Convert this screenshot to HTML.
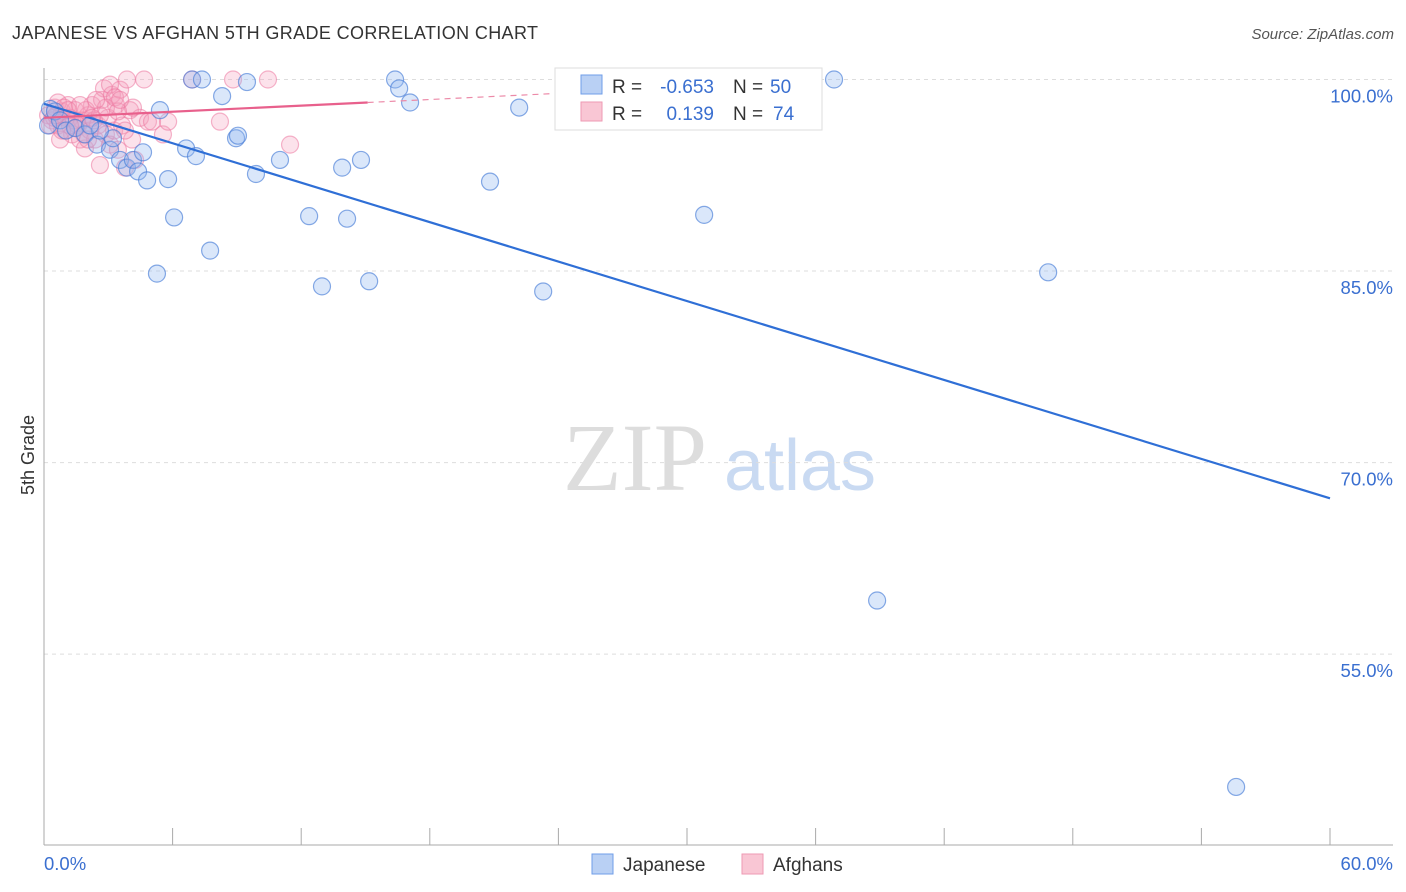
<!DOCTYPE html>
<html><head><meta charset="utf-8"><style>
body{margin:0;background:#fff;font-family:"Liberation Sans",sans-serif}
svg{display:block}
</style></head><body>
<svg id="chart" width="1406" height="892">
<text x="12" y="39" font-size="18" fill="#333" textLength="526">JAPANESE VS AFGHAN 5TH GRADE CORRELATION CHART</text>
<text x="1394" y="39" font-size="15" fill="#555" font-style="italic" text-anchor="end">Source: ZipAtlas.com</text>
<text x="34" y="455" font-size="18" fill="#333" transform="rotate(-90 34 455)" text-anchor="middle">5th Grade</text>
<g><text x="635" y="490" font-size="96" fill="#ddd" font-family="Liberation Serif" text-anchor="middle">ZIP</text><text x="800" y="490" font-size="72" fill="#c9daf2" text-anchor="middle">atlas</text></g>
<g id="grid"></g><g id="marks"></g>
<g>
<rect x="555" y="68" width="267" height="62" fill="#fff" stroke="#ddd"/>
<rect x="581" y="75" width="21" height="19" fill="#b9d0f4" stroke="#6f9ee8"/>
<rect x="581" y="102" width="21" height="19" fill="#f9c6d4" stroke="#ee9ab3"/>
<text x="612" y="93" font-size="19" fill="#333">R =</text>
<text x="714" y="93" font-size="19" fill="#3a6fd0" text-anchor="end">-0.653</text>
<text x="733" y="93" font-size="19" fill="#333">N =</text>
<text x="770" y="93" font-size="19" fill="#3a6fd0">50</text>
<text x="612" y="120" font-size="19" fill="#333">R =</text>
<text x="714" y="120" font-size="19" fill="#3a6fd0" text-anchor="end">0.139</text>
<text x="733" y="120" font-size="19" fill="#333">N =</text>
<text x="773" y="120" font-size="19" fill="#3a6fd0">74</text>
</g>
<g>
<rect x="592" y="854" width="21" height="20" fill="#b9d0f4" stroke="#6f9ee8"/><text x="623" y="871" font-size="19" fill="#333">Japanese</text>
<rect x="742" y="854" width="21" height="20" fill="#f9c6d4" stroke="#ee9ab3"/><text x="773" y="871" font-size="19" fill="#333">Afghans</text>
</g>
</svg>
<script>
const yTicks=[100,85,70,55];
const yTickLabels=["100.0%","85.0%","70.0%","55.0%"];
const xEndLabels=["0.0%","60.0%"];
const japX=[0.19,0.28,0.51,0.75,1.03,1.45,1.91,2.47,3.08,3.22,3.55,3.87,4.15,4.39,4.62,4.81,5.27,5.41,5.79,6.07,6.63,6.91,7.09,7.37,7.75,8.31,8.96,9.05,9.47,9.89,11.01,12.37,12.97,13.91,14.14,14.79,15.17,16.38,16.57,17.08,20.81,22.17,23.29,30.8,36.86,46.85,38.87,55.62,2.61,2.15];
const japY=[96.4,97.7,97.5,96.8,96.0,96.2,95.7,94.9,94.5,95.4,93.7,93.1,93.7,92.8,94.3,92.1,84.8,97.6,92.2,89.2,94.6,100,94.0,100,86.6,98.7,95.4,95.6,99.8,92.6,93.7,89.3,83.8,93.1,89.1,93.7,84.2,100,99.3,98.2,92.0,97.8,83.4,89.4,100,84.9,59.2,44.6,96.0,96.4];
const afgX=[0.19,0.37,0.51,0.65,0.84,0.98,1.12,1.21,1.31,1.45,1.59,1.68,1.77,1.91,2.05,2.15,2.24,2.38,2.52,2.61,2.71,2.8,2.89,2.99,3.08,3.17,3.27,3.36,3.45,3.55,3.64,3.78,3.87,4.01,4.11,4.25,4.48,4.67,4.85,5.04,5.55,5.79,6.91,8.21,8.82,10.45,11.48,0.75,1.03,1.4,1.96,2.33,0.47,0.28,0.65,0.93,2.61,2.89,2.43,1.87,3.08,3.31,3.78,4.15,1.49,1.68,1.21,2.05,2.24,0.84,3.45,3.55,0.56,1.12];
const afgY=[97.2,96.8,97.8,96.4,97.5,96.0,98.0,97.0,95.7,97.6,96.4,95.3,96.8,94.6,97.2,96.0,98.0,95.3,96.4,93.3,98.4,99.3,95.7,97.0,94.9,98.8,96.0,98.0,94.5,99.2,96.4,93.1,100,97.6,95.3,93.7,97.0,100,96.7,96.7,95.7,96.7,100,96.7,100,100,94.9,95.3,97.0,96.8,97.6,96.8,97.0,96.4,98.2,97.8,97.2,97.8,98.4,95.7,99.6,98.6,96.0,97.8,96.2,98.0,96.4,95.3,97.0,96.0,97.5,98.4,97.2,97.6];
const japTrend=[[0,98.1],[60,67.2]];
const afgTrendSolid=[[0,97.0],[15.1,98.2]];
const afgTrendDash=[[15.1,98.2],[23.8,98.9]];
const X0=44,X1=1330,YT=79.5,PXY=12.77;
const sx=v=>X0+(X1-X0)*v/60, sy=v=>YT+(100-v)*PXY;
const NS="http://www.w3.org/2000/svg";
function mk(t,a,p){const e=document.createElementNS(NS,t);for(const k in a)e.setAttribute(k,a[k]);p.appendChild(e);return e;}
const g=document.getElementById('grid'),m=document.getElementById('marks');
yTicks.forEach((t,i)=>{
 const l=mk('line',{x1:X0,x2:1393,y1:sy(t),y2:sy(t),stroke:'#ddd','stroke-dasharray':'4 4'},g);
 
 
 const tx=mk('text',{x:1393,y:sy(t)+23,'font-size':18.5,fill:'#3a6fd0','text-anchor':'end'},g);
 tx.textContent=yTickLabels[i];
 
 
});
const ax=mk('line',{x1:X0,x2:X0,y1:68,y2:845,stroke:'#aaa'},g);


const bx=mk('line',{x1:X0,x2:1393,y1:845,y2:845,stroke:'#aaa'},g);


for(let i=0;i<=10;i++){const t=mk('line',{x1:sx(i*6),x2:sx(i*6),y1:828,y2:845,stroke:'#aaa'},g);
 
 }
[[0,'start',X0],[1,'end',1393]].forEach(([i,a,x])=>{const t=mk('text',{x:x,y:870,'font-size':18.5,fill:'#3a6fd0','text-anchor':a},g);t.textContent=xEndLabels[i];
 
 });
afgX.forEach((x,i)=>{const c=mk('circle',{cx:sx(x),cy:sy(afgY[i]),r:8.5,fill:'rgba(246,160,188,0.3)',stroke:'rgba(236,120,160,0.55)','stroke-width':1.2},m);
 
 });
japX.forEach((x,i)=>{const c=mk('circle',{cx:sx(x),cy:sy(japY[i]),r:8.5,fill:'rgba(150,185,240,0.35)',stroke:'rgba(70,125,215,0.65)','stroke-width':1.2},m);
 
 });
function ln(p,st,name){const l=mk('line',Object.assign({x1:sx(p[0][0]),y1:sy(p[0][1]),x2:sx(p[1][0]),y2:sy(p[1][1])},st),m);
 
 }
ln(japTrend,{stroke:'#2f6fd6','stroke-width':2.2},'japanese-trendline');
ln(afgTrendSolid,{stroke:'#e8608c','stroke-width':2.2},'afghan-trendline');
ln(afgTrendDash,{stroke:'#ec8aa8','stroke-width':1.2,'stroke-dasharray':'6 5'},'afghan-trendline-extension');
</script>
</body></html>
